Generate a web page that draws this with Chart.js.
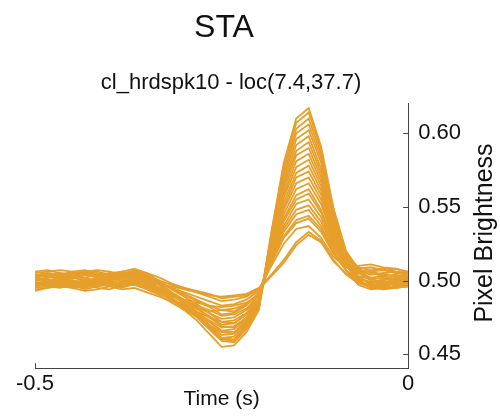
<!DOCTYPE html>
<html>
<head>
<meta charset="utf-8">
<script src="https://cdn.jsdelivr.net/npm/chart.js@4"></script>
<style>
  body { margin: 0; background: #fff; }
  #wrap { width: 500px; height: 419px; }
</style>
</head>
<body>
<div id="wrap"><canvas id="staChart" width="500" height="419"></canvas></div>
<script>
// time axis (s), one sample every 1/60 s
const TIME_S = [
  -0.5, -0.4833, -0.4667, -0.45, -0.4333, -0.4167, -0.4, -0.3833, -0.3667, -0.35,
  -0.3333, -0.3167, -0.3, -0.2833, -0.2667, -0.25, -0.2333, -0.2167, -0.2, -0.1833,
  -0.1667, -0.15, -0.1333, -0.1167, -0.1, -0.0833, -0.0667, -0.05, -0.0333, -0.0167, 0
];

// STA traces (pixel brightness)
const trace01 = [0.503,0.505,0.504,0.506,0.505,0.503,0.505,0.504,0.507,0.503, 0.497,0.487,0.480,0.473,0.464,0.455,0.456,0.465,0.480,0.533, 0.580,0.610,0.617,0.591,0.549,0.520,0.508,0.504,0.505,0.502,0.503];
const trace02 = [0.497,0.499,0.501,0.499,0.498,0.500,0.502,0.499,0.501,0.498, 0.494,0.488,0.482,0.477,0.469,0.461,0.462,0.470,0.482,0.531, 0.575,0.603,0.610,0.586,0.546,0.519,0.506,0.501,0.499,0.500,0.498];
const trace03 = [0.501,0.500,0.498,0.497,0.499,0.502,0.500,0.498,0.500,0.499, 0.494,0.487,0.481,0.475,0.467,0.459,0.458,0.467,0.481,0.529, 0.569,0.596,0.602,0.580,0.543,0.517,0.505,0.500,0.497,0.499,0.501];
const trace04 = [0.495,0.496,0.498,0.497,0.494,0.496,0.497,0.495,0.498,0.496, 0.492,0.488,0.482,0.478,0.472,0.466,0.467,0.474,0.485,0.526, 0.564,0.588,0.594,0.573,0.539,0.515,0.503,0.497,0.495,0.496,0.497];
const trace05 = [0.504,0.502,0.503,0.501,0.504,0.503,0.501,0.503,0.505,0.501, 0.497,0.490,0.484,0.478,0.470,0.463,0.464,0.472,0.484,0.524, 0.558,0.581,0.586,0.567,0.536,0.515,0.506,0.505,0.503,0.504,0.502];
const trace06 = [0.499,0.497,0.496,0.499,0.500,0.498,0.496,0.499,0.502,0.500, 0.495,0.490,0.486,0.481,0.476,0.470,0.471,0.477,0.487,0.522, 0.553,0.573,0.578,0.561,0.533,0.513,0.502,0.498,0.500,0.497,0.499];
const trace07 = [0.502,0.504,0.505,0.504,0.502,0.504,0.505,0.506,0.504,0.502, 0.498,0.492,0.487,0.481,0.475,0.469,0.468,0.475,0.486,0.520, 0.548,0.566,0.570,0.555,0.529,0.512,0.507,0.506,0.507,0.505,0.504];
const trace08 = [0.497,0.499,0.497,0.495,0.497,0.499,0.498,0.496,0.499,0.497, 0.493,0.489,0.486,0.482,0.478,0.474,0.475,0.480,0.488,0.517, 0.542,0.558,0.562,0.548,0.526,0.510,0.500,0.496,0.494,0.497,0.498];
const trace09 = [0.506,0.504,0.503,0.505,0.506,0.504,0.503,0.505,0.506,0.504, 0.500,0.494,0.490,0.486,0.482,0.477,0.478,0.483,0.492,0.515, 0.537,0.552,0.555,0.543,0.523,0.511,0.508,0.509,0.507,0.508,0.506];
const trace10 = [0.493,0.495,0.496,0.495,0.493,0.494,0.496,0.494,0.495,0.492, 0.489,0.486,0.484,0.481,0.479,0.480,0.481,0.484,0.490,0.513, 0.533,0.545,0.548,0.537,0.520,0.507,0.497,0.494,0.495,0.496,0.497];
const trace11 = [0.500,0.501,0.500,0.502,0.501,0.499,0.500,0.502,0.503,0.501, 0.498,0.495,0.492,0.489,0.486,0.483,0.484,0.487,0.493,0.512, 0.529,0.539,0.542,0.533,0.518,0.507,0.501,0.499,0.501,0.500,0.502];
const trace12 = [0.505,0.506,0.507,0.506,0.507,0.505,0.504,0.506,0.508,0.505, 0.502,0.498,0.495,0.492,0.489,0.486,0.487,0.489,0.494,0.510, 0.525,0.535,0.537,0.529,0.516,0.509,0.510,0.511,0.509,0.508,0.505];
const trace13 = [0.498,0.500,0.502,0.500,0.499,0.501,0.503,0.500,0.502,0.499, 0.497,0.496,0.494,0.492,0.490,0.489,0.490,0.491,0.495,0.504, 0.514,0.526,0.533,0.527,0.514,0.504,0.498,0.496,0.497,0.499,0.500];
const trace14 = [0.502,0.503,0.501,0.503,0.504,0.502,0.500,0.503,0.505,0.503, 0.500,0.497,0.495,0.493,0.491,0.488,0.489,0.490,0.494,0.503, 0.512,0.524,0.531,0.526,0.513,0.505,0.499,0.497,0.498,0.501,0.502];
const trace15 = [0.500,0.502,0.503,0.502,0.500,0.501,0.503,0.502,0.504,0.500, 0.495,0.488,0.482,0.476,0.468,0.460,0.459,0.468,0.482,0.532, 0.578,0.607,0.614,0.589,0.548,0.519,0.506,0.502,0.503,0.501,0.500];
const trace16 = [0.494,0.495,0.497,0.496,0.495,0.497,0.498,0.496,0.497,0.494, 0.490,0.485,0.480,0.476,0.470,0.465,0.464,0.471,0.483,0.529, 0.572,0.600,0.606,0.583,0.544,0.516,0.501,0.495,0.494,0.495,0.496];
const trace17 = [0.506,0.507,0.505,0.504,0.506,0.507,0.506,0.504,0.507,0.505, 0.499,0.491,0.484,0.477,0.469,0.461,0.460,0.469,0.482,0.527, 0.566,0.592,0.598,0.576,0.541,0.518,0.509,0.507,0.508,0.506,0.505];
const trace18 = [0.498,0.496,0.495,0.497,0.498,0.495,0.494,0.497,0.499,0.497, 0.493,0.487,0.483,0.478,0.473,0.468,0.469,0.475,0.486,0.525, 0.561,0.585,0.590,0.570,0.537,0.514,0.500,0.496,0.497,0.495,0.496];
const trace19 = [0.502,0.500,0.501,0.503,0.502,0.500,0.502,0.501,0.503,0.502, 0.497,0.491,0.485,0.479,0.472,0.466,0.465,0.473,0.485,0.523, 0.556,0.577,0.582,0.564,0.534,0.513,0.503,0.501,0.502,0.500,0.501];
const trace20 = [0.496,0.498,0.499,0.497,0.496,0.498,0.500,0.497,0.498,0.495, 0.491,0.487,0.483,0.479,0.475,0.472,0.473,0.478,0.487,0.521, 0.550,0.570,0.574,0.558,0.531,0.511,0.499,0.495,0.496,0.498,0.497];
const trace21 = [0.503,0.505,0.504,0.503,0.505,0.506,0.504,0.503,0.505,0.503, 0.499,0.494,0.489,0.484,0.478,0.472,0.471,0.477,0.488,0.518, 0.545,0.562,0.566,0.552,0.528,0.512,0.506,0.504,0.505,0.506,0.504];
const trace22 = [0.499,0.498,0.500,0.499,0.497,0.499,0.501,0.500,0.501,0.498, 0.495,0.491,0.487,0.483,0.480,0.476,0.477,0.481,0.490,0.516, 0.540,0.555,0.559,0.546,0.525,0.510,0.502,0.499,0.498,0.499,0.500];
const trace23 = [0.504,0.503,0.502,0.504,0.505,0.503,0.502,0.504,0.506,0.503, 0.499,0.495,0.491,0.487,0.483,0.480,0.479,0.484,0.491,0.514, 0.535,0.548,0.551,0.540,0.522,0.509,0.505,0.506,0.504,0.503,0.504];
const trace24 = [0.496,0.497,0.499,0.498,0.496,0.497,0.499,0.498,0.499,0.496, 0.493,0.490,0.487,0.485,0.483,0.482,0.483,0.485,0.491,0.512, 0.530,0.541,0.544,0.535,0.519,0.507,0.499,0.496,0.497,0.498,0.496];

const TRACES = [trace01, trace02, trace03, trace04, trace05, trace06, trace07, trace08,
  trace09, trace10, trace11, trace12, trace13, trace14, trace15, trace16,
  trace17, trace18, trace19, trace20, trace21, trace22, trace23, trace24];

const X_TICKS = [-0.5, 0];
const Y_TICKS = [0.45, 0.5, 0.55, 0.6];

const LINE_COLOR = "#e69f2b";
const AXIS_COLOR = "#444";
const TEXT_COLOR = "#111";
const FONT = "'Liberation Sans', Arial, Helvetica, sans-serif";

Chart.defaults.font.family = FONT;
Chart.defaults.color = TEXT_COLOR;

// titles, inward ticks and the right-hand y title (reads bottom to top)
const axisExtras = {
  id: "axisExtras",
  afterDraw(chart) {
    const ctx = chart.ctx;
    const xs = chart.scales.x;
    const ys = chart.scales.y;
    const area = chart.chartArea;
    ctx.save();
    ctx.fillStyle = TEXT_COLOR;
    ctx.textAlign = "center";
    ctx.textBaseline = "middle";
    ctx.font = "32px " + FONT;
    ctx.fillText("STA", 224, 28);
    ctx.font = "22px " + FONT;
    ctx.fillText("cl_hrdspk10 - loc(7.4,37.7)", 231, 83);

    ctx.strokeStyle = AXIS_COLOR;
    ctx.lineWidth = 1;
    ys.ticks.forEach((t) => {
      const py = Math.round(ys.getPixelForValue(t.value)) + 0.5;
      ctx.beginPath();
      ctx.moveTo(area.right - 5, py);
      ctx.lineTo(area.right, py);
      ctx.stroke();
    });
    xs.ticks.forEach((t) => {
      const px = Math.round(xs.getPixelForValue(t.value)) + 0.5;
      ctx.beginPath();
      ctx.moveTo(px, area.bottom - 5);
      ctx.lineTo(px, area.bottom);
      ctx.stroke();
    });

    ctx.translate(492, 233);
    ctx.rotate(-Math.PI / 2);
    ctx.font = "25px " + FONT;
    ctx.textBaseline = "alphabetic";
    ctx.fillText("Pixel Brightness", 0, 0);
    ctx.restore();
  },
};

const datasets = TRACES.map((trace) => ({
  data: trace.map((v, i) => ({ x: TIME_S[i], y: v })),
  borderColor: LINE_COLOR,
  borderWidth: 1.8,
  pointRadius: 0,
  fill: false,
  tension: 0,
}));

new Chart(document.getElementById("staChart").getContext("2d"), {
  type: "line",
  data: { datasets: datasets },
  options: {
    responsive: false,
    animation: false,
    layout: { padding: { left: 35, right: 29, top: 103, bottom: 11 } },
    plugins: {
      legend: { display: false },
      tooltip: { enabled: false },
      title: { display: false },
    },
    scales: {
      x: {
        type: "linear",
        min: -0.5,
        max: 0,
        afterBuildTicks: (axis) => {
          axis.ticks = X_TICKS.map((v) => ({ value: v }));
        },
        grid: { display: false, drawTicks: false },
        border: { display: true, color: AXIS_COLOR, width: 1 },
        ticks: {
          padding: 10,
          maxRotation: 0,
          font: { size: 22, lineHeight: 0.5 },
          callback: (v) => (v === 0 ? "0" : String(v)),
        },
        title: {
          display: true,
          text: "Time (s)",
          font: { size: 21, lineHeight: 0.8 },
          padding: { top: -8, bottom: 0 },
        },
      },
      y: {
        position: "right",
        min: 0.4405,
        max: 0.6205,
        afterBuildTicks: (axis) => {
          axis.ticks = Y_TICKS.map((v) => ({ value: v }));
        },
        grid: { display: false, drawTicks: false },
        border: { display: true, color: AXIS_COLOR, width: 1 },
        ticks: {
          padding: 10,
          font: { size: 22 },
          callback: (v) => v.toFixed(2),
        },
      },
    },
  },
  plugins: [axisExtras],
});
</script>
</body>
</html>
